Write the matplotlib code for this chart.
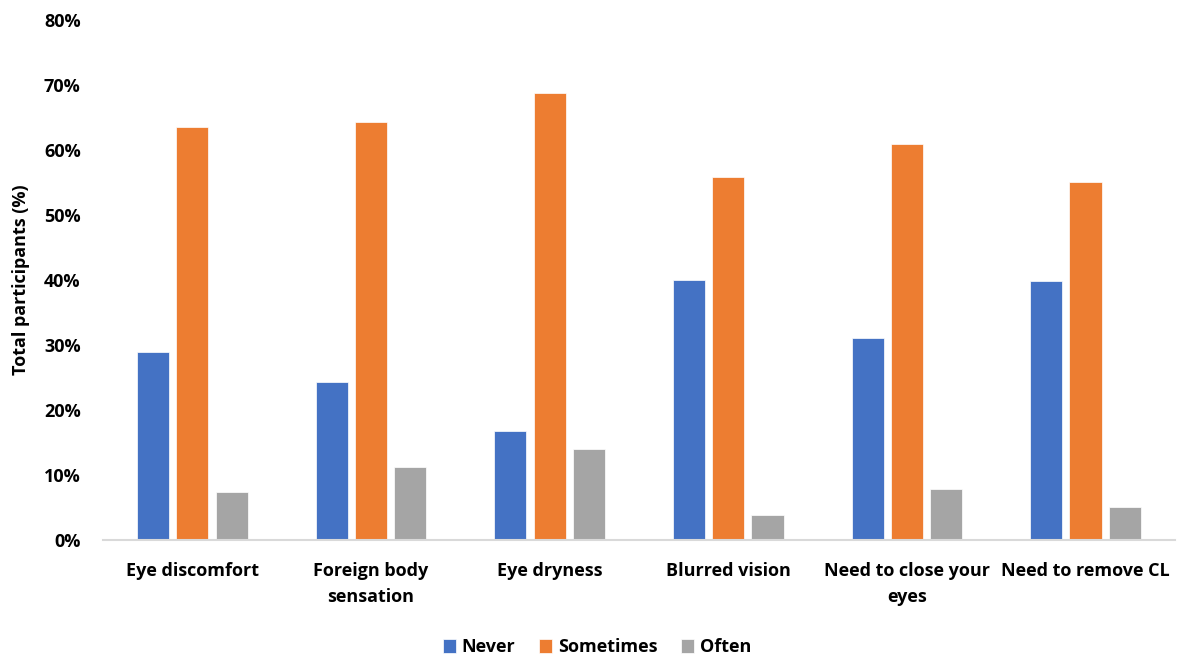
import numpy as np
import matplotlib.pyplot as plt
from matplotlib.ticker import PercentFormatter

categories = ['Eye discomfort', 'Foreign body\nsensation', 'Eye dryness',
              'Blurred vision', 'Need to close your\neyes', 'Need to remove CL']
never = [28.9, 24.3, 16.8, 40.0, 31.1, 39.8]
sometimes = [63.5, 64.3, 68.8, 55.8, 60.9, 55.1]
often = [7.4, 11.2, 14.0, 3.8, 7.8, 5.1]

plt.rcParams['font.family'] = ['Open Sans', 'DejaVu Sans']
plt.rcParams['font.weight'] = 'bold'

fig = plt.figure(figsize=(11.82, 6.58), dpi=100)
ax = fig.add_axes([0.0871, 0.1793, 0.9069, 0.7903])

x = np.arange(len(categories))
w = 0.18
gap = 0.04
ax.bar(x - w - gap, never, w, color='#4472C4', label='Never', edgecolor='white', linewidth=0.5)
ax.bar(x, sometimes, w, color='#ED7D31', label='Sometimes', edgecolor='white', linewidth=0.5)
ax.bar(x + w + gap, often, w, color='#A5A5A5', label='Often', edgecolor='white', linewidth=0.5)

ax.set_xlim(-0.5, len(categories) - 0.5)
ax.set_ylim(0, 80)
ax.set_yticks(np.arange(0, 81, 10))
ax.yaxis.set_major_formatter(PercentFormatter(decimals=0))
ax.set_xticks(x)
ax.set_xticklabels(categories, fontsize=13, fontweight='bold', linespacing=1.55)
ax.tick_params(axis='y', labelsize=13, length=0, pad=16)
ax.tick_params(axis='x', length=0, pad=16)
for lab in ax.get_yticklabels():
    lab.set_fontweight('bold')

for side in ['top', 'right', 'left']:
    ax.spines[side].set_visible(False)
ax.spines['bottom'].set_color('#D9D9D9')
ax.spines['bottom'].set_linewidth(1.5)

ax.set_ylabel('Total participants (%)', fontsize=13, fontweight='bold', labelpad=10)

fig.legend(loc='lower center', bbox_to_anchor=(0.505, -0.022), ncol=3, frameon=False,
           handlelength=0.75, handleheight=0.75, handletextpad=0.3,
           columnspacing=1.3, prop={'weight': 'bold', 'size': 13})

fig.savefig('out.png', dpi=100)
